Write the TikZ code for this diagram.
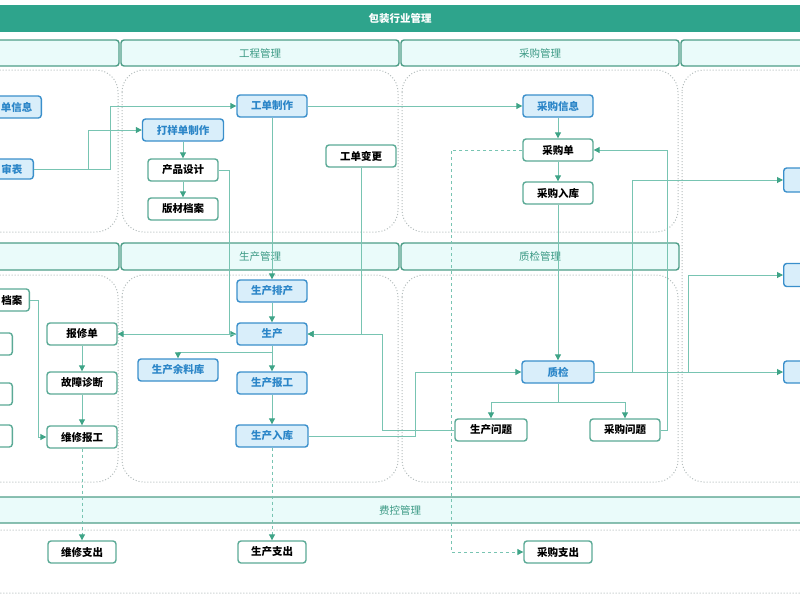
\documentclass[tikz,border=0pt]{standalone}
\usepackage{fontspec}
\setmainfont{Noto Sans CJK SC}
\usepackage{tikz}
\usetikzlibrary{arrows.meta}
\tikzset{>={Triangle[width=6pt,length=6pt]}}
\definecolor{titlegreen}{HTML}{2EA48C}
\definecolor{barfill}{HTML}{EAFBFA}
\definecolor{bardraw}{HTML}{4E9E88}
\definecolor{bartext}{HTML}{3C9A85}
\definecolor{linegreen}{HTML}{78C4B2}
\definecolor{tipgreen}{HTML}{3FA487}
\definecolor{boxblue}{HTML}{3A8FCB}
\definecolor{fillblue}{HTML}{D9EEFA}
\definecolor{textblue}{HTML}{2C86C8}
\definecolor{boxgreen}{HTML}{5BAA96}
\definecolor{dotgray}{HTML}{B3BCBC}
\tikzset{
  bar/.style={draw=bardraw, fill=barfill, line width=1.4pt, rounded corners=3pt,
    text=bartext, minimum height=26pt, font=\fontsize{10.5}{12}\selectfont},
  lane/.style={draw=dotgray, dotted, line width=1pt, rounded corners=22pt},
  sysbox/.style={draw=boxblue, fill=fillblue, text=textblue, line width=1.4pt,
    rounded corners=3pt, minimum height=22pt, minimum width=70pt, inner sep=2pt,
    font=\bfseries\fontsize{10.5}{12}\selectfont},
  docbox/.style={sysbox, draw=boxgreen, fill=white, text=black},
  flow/.style={draw=linegreen, line width=1pt, ->, >={Triangle[width=6pt,length=6pt,color=tipgreen]}},
  cost/.style={flow, dashed}
}

\begin{document}
\begin{tikzpicture}[x=1pt,y=-1pt]

\newcommand\BW{278pt};
\newcommand\BH{26pt};

\useasboundingbox (0,0) rectangle (800,600); %% page

%% lanes
\draw[lane] (-40,70) rectangle (118,232);
\draw[lane] (122,70) rectangle (398,232);
\draw[lane] (402,70) rectangle (678,232);
\draw[lane] (682,70) rectangle (860,482);
\draw[lane] (-40,275) rectangle (118,482);
\draw[lane] (122,275) rectangle (398,482);
\draw[lane] (402,275) rectangle (678,482);
\draw[lane] (-40,530) rectangle (840,593);

%% title and lane headers
\fill[titlegreen] (-10,5) rectangle (810,32);
\node[text=white, font=\bfseries\fontsize{10.5}{12}\selectfont] (title) at (400,19) {包装行业管理};

\draw[bar] (-40,40) rectangle (119,66);
\node[bar, minimum width=\BW] (eng) at (260,53) {工程管理};
\node[bar, minimum width=\BW] (buy) at (540,53) {采购管理};
\draw[bar] (681,40) rectangle (860,66);

\draw[bar] (-40,243) rectangle (119,270);
\node[bar, minimum width=\BW, minimum height=27pt] (make) at (260,256.5) {生产管理};
\node[bar, minimum width=\BW, minimum height=27pt] (check) at (540,256.5) {质检管理};

\node[bar, minimum width=880pt] (fee) at (400,510) {费控管理};

%% first row
\node[sysbox, anchor=east, text width=60pt, align=right, inner xsep=9pt] (ordinfo) at (42,107) {单信息};
\node[sysbox, anchor=east, text width=60pt, align=right, inner xsep=11pt, minimum height=20pt] (review) at (34,169) {审表};
\node[sysbox, minimum width=81pt] (sample) at (183,130) {打样单制作};
\node[sysbox] (mkorder) at (272,106) {工单制作};
\node[docbox] (design) at (183,170) {产品设计};
\node[docbox] (plate) at (183,209) {版材档案};
\node[docbox] (change) at (361,156) {工单变更};
\node[sysbox] (buyinfo) at (558,106) {采购信息};
\node[docbox] (buyorder) at (558,150) {采购单};
\node[docbox] (buyin) at (558,193) {采购入库};
\node[sysbox, anchor=west, minimum height=24pt] (rta) at (783,180) {};

%% second row
\node[docbox, anchor=east, text width=60pt, align=right, inner xsep=7pt] (archive) at (30,300) {档案};
\node[docbox, anchor=east] (blanka) at (13,344) {};
\node[docbox, anchor=east] (blankb) at (13,394) {};
\node[docbox, anchor=east] (blankc) at (13,436) {};
\node[docbox] (repair) at (82,334) {报修单};
\node[docbox] (diag) at (82,383) {故障诊断};
\node[docbox] (fix) at (82,437) {维修报工};
\node[sysbox] (sched) at (272,291) {生产排产};
\node[sysbox] (prod) at (272,334) {生产};
\node[sysbox, minimum width=80pt] (scrap) at (178,370) {生产余料库};
\node[sysbox] (report) at (272,383) {生产报工};
\node[sysbox, minimum width=72pt] (store) at (272,436) {生产入库};
\node[sysbox, minimum width=72pt] (qc) at (558,372) {质检};
\node[docbox, minimum width=72pt] (prodissue) at (491,430) {生产问题};
\node[docbox] (buyissue) at (625,430) {采购问题};
\node[sysbox, anchor=west, minimum height=23pt] (rtb) at (783,275) {};
\node[sysbox, anchor=west] (rtc) at (783,372) {};

%% third row
\node[docbox, minimum width=68pt] (fixcost) at (82,552) {维修支出};
\node[docbox, minimum width=68pt] (prodcost) at (272,552) {生产支出};
\node[docbox, minimum width=68pt] (buycost) at (558,552) {采购支出};

%% flows
\draw[flow] (review.east) -- ++(76,0) |- (mkorder.west);
\draw[flow] (review.east) -- ++(54,0) |- (sample.west);
\draw[flow] (sample) -- (design);
\draw[flow] (design) -- (plate);
\draw[flow] (design.east) -- ++(11,0) |- (prod.west);
\draw[flow] (prod.west) -- (repair.east);
\draw[flow] (mkorder) -- (sched);
\draw[flow] (sched) -- (prod);
\draw[flow] (mkorder) -- (buyinfo);
\draw[flow] (change.south) |- (prod.east);
\draw[flow] (prodissue.west) -- ++(-72,0) |- (prod.east);
\draw[flow] (store.east) -- ++(107,0) |- (qc.west);
\draw[flow] (buyinfo) -- (buyorder);
\draw[flow] (buyorder) -- (buyin);
\draw[flow] (buyin) -- (qc);
\draw[flow] (buyissue.east) -- ++(7,0) |- (buyorder.east);
\draw[flow] (qc.east) -- (rtc.west);
\draw[flow] (qc.east) -- ++(94,0) |- (rtb.west);
\draw[flow] (qc.east) -- ++(38,0) |- (rta.west);
\draw[flow] (qc.south) -- ++(0,19) -| (prodissue.north);
\draw[flow] (qc.south) -- ++(0,19) -| (buyissue.north);
\draw[flow] (prod) -- (report);
\draw[flow] (prod.south) -- ++(0,7) -| (scrap.north);
\draw[flow] (report) -- (store);
\draw[flow] (repair) -- (diag);
\draw[flow] (diag) -- (fix);
\draw[flow] (archive.east) -- ++(8,0) |- (fix.west);

%% costs
\draw[cost] (fix) -- (fixcost);
\draw[cost] (store) -- (prodcost);
\draw[cost] (buyorder.west) -- ++(-71,0) |- (buycost.west);

\end{tikzpicture}
\end{document}
